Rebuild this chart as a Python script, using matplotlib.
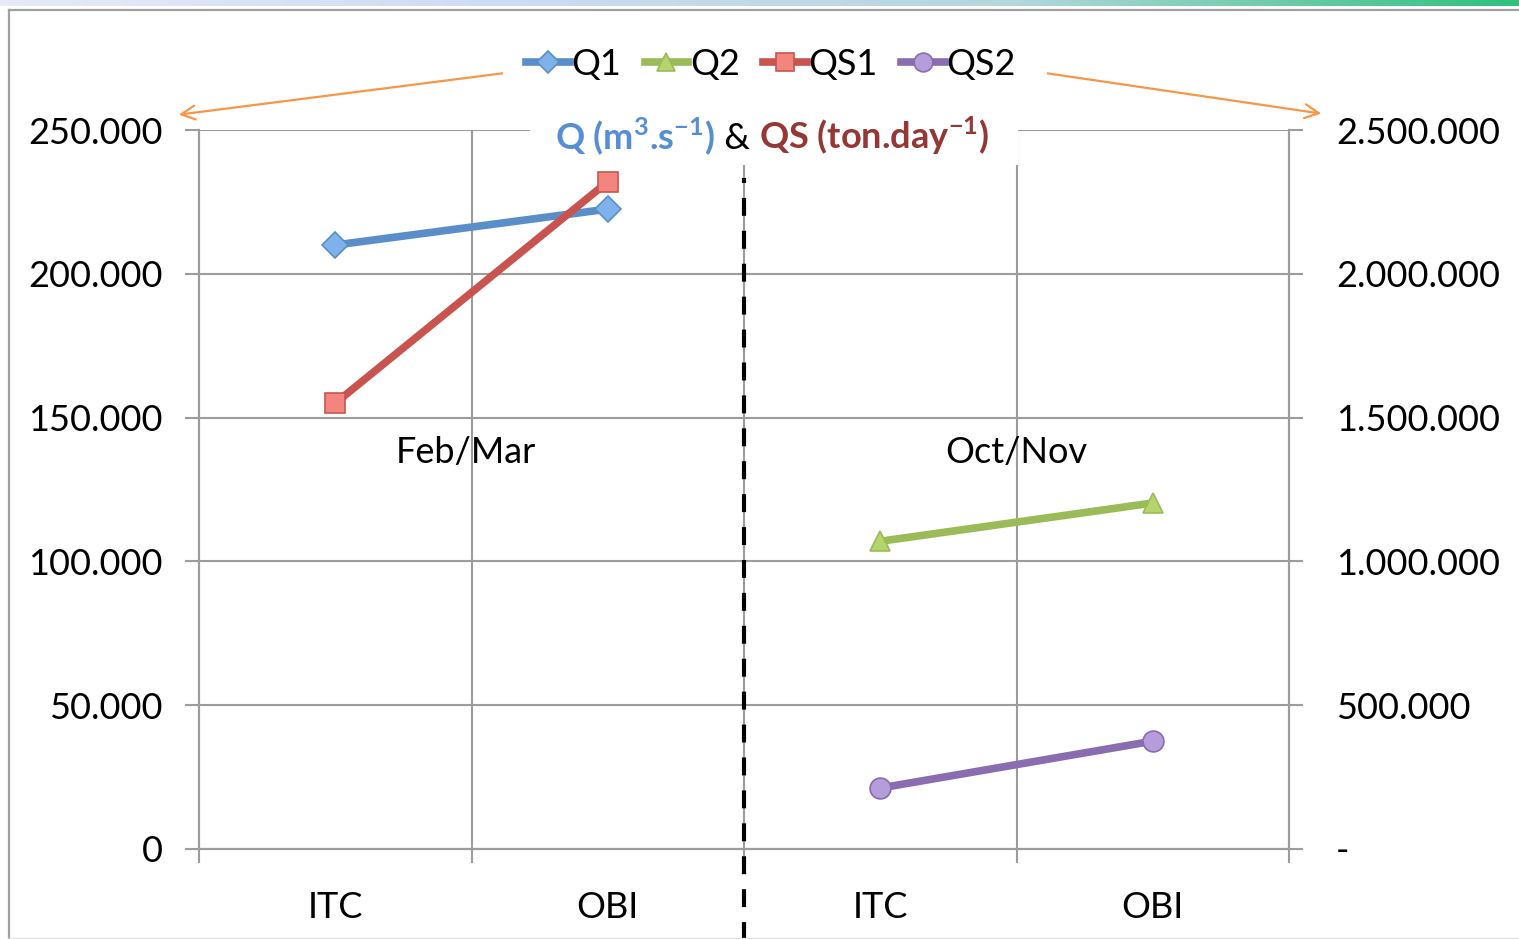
import numpy as np
import matplotlib
matplotlib.use("Agg")
import matplotlib.pyplot as plt
from matplotlib.lines import Line2D
from matplotlib.patches import Rectangle, FancyArrowPatch
from matplotlib.colors import LinearSegmentedColormap
from matplotlib.ticker import FuncFormatter, FixedLocator
from matplotlib.offsetbox import TextArea, HPacker, AnnotationBbox

# ---------------- data ----------------
categories = ["ITC", "OBI", "ITC", "OBI"]
periods = ["Feb/Mar", "Oct/Nov"]
q1 = [210000, 222500, np.nan, np.nan]      # m3/s (left axis)
q2 = [np.nan, np.nan, 107000, 120300]      # m3/s (left axis)
qs1 = [1550000, 2320000, np.nan, np.nan]   # ton/day (right axis)
qs2 = [np.nan, np.nan, 212000, 375000]     # ton/day (right axis)
left_ticks = [0, 50000, 100000, 150000, 200000, 250000]
right_ticks = [0, 500000, 1000000, 1500000, 2000000, 2500000]

FONT = ["Lato", "DejaVu Sans"]
plt.rcParams["font.family"] = FONT
plt.rcParams["mathtext.fontset"] = "custom"
plt.rcParams["mathtext.rm"] = "Lato"
plt.rcParams["mathtext.bf"] = "Lato:bold"
FS = 26
GRID = "#9c9c9c"

W, H = 1519, 939
fig = plt.figure(figsize=(W / 100, H / 100), dpi=100)

def fx(px):
    return px / W

def fy(py):
    return 1 - py / H

# top gradient strip
gax = fig.add_axes([0, fy(6), 1, 6 / H])
grad = np.linspace(0, 1, 256)
cm = LinearSegmentedColormap.from_list("g", ["#e6ebf6", "#cddbf3", "#b5d8dc", "#2fc07e"])
gax.imshow(grad[None, :], aspect="auto", cmap=cm, extent=[0, 1, 0, 1])
gax.axis("off")

# outer frame
fig.add_artist(Line2D([fx(8.5), fx(8.5)], [0, fy(9.5)], color="#a0a0a0", lw=1.6))
fig.add_artist(Line2D([fx(8.5), 1], [fy(9.5), fy(9.5)], color="#a0a0a0", lw=1.6))
fig.add_artist(Line2D([fx(8.5), 1], [fy(937.5), fy(937.5)], color="#e0e0e0", lw=1.0))

ax = fig.add_axes([fx(199), fy(849), fx(1289) - fx(199), fy(130) - fy(849)])
ax2 = ax.twinx()

x = np.arange(len(categories))
ax.set_xlim(-0.5, len(categories) - 0.5)
ax.set_ylim(0, 250000)
ax2.set_ylim(0, 2500000)

# grid
for v in left_ticks:
    ax.axhline(v, color=GRID, lw=1.5, zorder=0)
for b in [0.5, 1.5, 2.5]:
    ax.axvline(b, color=GRID, lw=1.5, zorder=0)

for a in (ax, ax2):
    a.spines["top"].set_visible(False)
    for s in ["left", "right", "bottom"]:
        a.spines[s].set_color(GRID)
        a.spines[s].set_linewidth(1.5)

fmt = lambda v, p: f"{v:,.0f}".replace(",", ".")
fmt2 = lambda v, p: "-" if v == 0 else f"{v:,.0f}".replace(",", ".")
ax.yaxis.set_major_locator(FixedLocator(left_ticks))
ax.yaxis.set_major_formatter(FuncFormatter(fmt))
ax2.yaxis.set_major_locator(FixedLocator(right_ticks))
ax2.yaxis.set_major_formatter(FuncFormatter(fmt2))
ax.tick_params(axis="y", length=10, width=1.5, color=GRID, labelsize=FS, pad=16)
ax2.tick_params(axis="y", length=10, width=1.5, color=GRID, labelsize=FS, pad=24)

ax.set_xticks(x)
ax.set_xticklabels(categories)
ax.set_xticks(np.arange(-0.5, len(categories)), minor=True)
ax.tick_params(axis="x", which="major", length=0, labelsize=FS, pad=30)
ax.tick_params(axis="x", which="minor", length=10, width=1.5, color=GRID)
ax2.set_zorder(ax.get_zorder() + 1)
ax.patch.set_visible(False)

styles = [
    (ax, q1, "Q1", "#5a8ec8", "#7fb2ea", "D", 13),
    (ax, q2, "Q2", "#9bbb59", "#b4d46e", "^", 15),
    (ax2, qs1, "QS1", "#c9544f", "#f4857e", "s", 14),
    (ax2, qs2, "QS2", "#8a6cb0", "#b59cda", "o", 15),
]
handles = []
for a, vals, lab, col, face, mk, ms in styles:
    a.plot(x, vals, color=col, lw=5.5, marker=mk, ms=ms, mfc=face, mec=col,
           mew=1.2, label=lab, zorder=3, clip_on=False)
    handles.append(Line2D([], [], color=col, lw=5.5, marker=mk, ms=ms * 0.9,
                          mfc=face, mec=col, mew=1.2, label=lab))

# period labels
ax.text(0.48, 138000, periods[0], ha="center", va="center", fontsize=FS)
ax.text(2.5, 138000, periods[1], ha="center", va="center", fontsize=FS)

# dashed separator
ax2.plot([1.5, 1.5], [-0.126, (849 - 178) / 719], transform=ax2.get_xaxis_transform(),
         color="black", lw=3.0, dashes=(4.3, 3.6), clip_on=False, zorder=5,
         solid_capstyle="butt", dash_capstyle="butt")

# legend
fig.legend(handles=handles, loc="center", bbox_to_anchor=(fx(771), fy(64)), ncol=4,
           frameon=False, fontsize=FS, handlelength=1.2, handletextpad=0.05,
           columnspacing=0.65, borderpad=0)

# title white box and title
fig.add_artist(Rectangle((fx(530), fy(165)), fx(1018) - fx(530), fy(110) - fy(165),
                         transform=fig.transFigure, facecolor="white", edgecolor="none",
                         zorder=2))
t1 = TextArea(r"Q (m$^{\mathbf{3}}$.s$^{\mathbf{-1}}$)",
              textprops=dict(color="#558ed5", fontsize=FS, fontweight="bold", family=FONT))
t2 = TextArea(" & ", textprops=dict(color="black", fontsize=FS, family=FONT))
t3 = TextArea(r"QS (ton.day$^{\mathbf{-1}}$)",
              textprops=dict(color="#953735", fontsize=FS, fontweight="bold", family=FONT))
pk = HPacker(children=[t1, t2, t3], align="baseline", pad=0, sep=0)
ab = AnnotationBbox(pk, (fx(772), fy(136)), xycoords="figure fraction", frameon=False,
                    box_alignment=(0.5, 0.5), zorder=3)
fig.add_artist(ab)

# orange arrows
for (x0, y0, x1, y1) in [(505, 73, 176, 115), (1045, 73, 1324, 114)]:
    fig.add_artist(FancyArrowPatch(
        (fx(x0), fy(y0)), (fx(x1), fy(y1)), transform=fig.transFigure,
        arrowstyle="->,head_length=10,head_width=5", color="#f79646", lw=1.6,
        mutation_scale=1, zorder=4))

fig.savefig("out.png", dpi=100)
